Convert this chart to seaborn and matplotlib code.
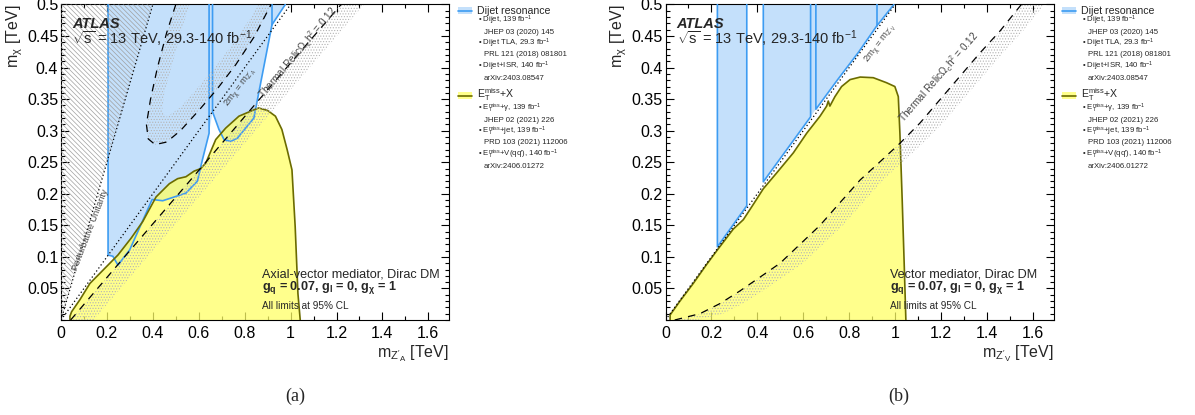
import numpy as np
import matplotlib
matplotlib.use("Agg")
import matplotlib.pyplot as plt
import seaborn as sns
from matplotlib.patches import Rectangle
from matplotlib.lines import Line2D
from matplotlib.ticker import FixedLocator, MultipleLocator, FixedFormatter

# ------------------------------------------------------------------ data
X_TICKS = [0, 0.2, 0.4, 0.6, 0.8, 1.0, 1.2, 1.4, 1.6]
X_TICK_LABELS = ["0", "0.2", "0.4", "0.6", "0.8", "1", "1.2", "1.4", "1.6"]
Y_TICKS = [0.05, 0.1, 0.15, 0.2, 0.25, 0.3, 0.35, 0.4, 0.45, 0.5]
Y_TICK_LABELS = ["0.05", "0.1", "0.15", "0.2", "0.25", "0.3", "0.35", "0.4", "0.45", "0.5"]

# reference lines
UNITARITY_X = [0.0, 0.40]
UNITARITY_Y = [0.0, 0.50]
TWO_M_X = [0.0, 1.0]
TWO_M_Y = [0.0, 0.5]

# ---- (a) axial-vector mediator
A_EMISS_X = [0.039, 0.039, 0.046, 0.082, 0.126, 0.183, 0.248, 0.306, 0.356, 0.414, 0.472,
             0.508, 0.544, 0.580, 0.609, 0.631, 0.674, 0.717, 0.775, 0.840, 0.861, 0.900,
             0.934, 0.962, 0.985, 1.006, 1.020, 1.032, 1.042]
A_EMISS_Y = [0.000, 0.006, 0.013, 0.032, 0.058, 0.079, 0.103, 0.130, 0.156, 0.195, 0.216,
             0.224, 0.227, 0.236, 0.240, 0.249, 0.286, 0.304, 0.323, 0.333, 0.336, 0.332,
             0.323, 0.302, 0.270, 0.238, 0.148, 0.042, 0.000]

A_DIJET_1_X = [0.205, 0.205, 0.226, 0.248, 0.299, 0.364, 0.397, 0.443, 0.544, 0.594, 0.616, 0.645, 0.645]
A_DIJET_1_Y = [0.500, 0.103, 0.101, 0.087, 0.111, 0.164, 0.191, 0.189, 0.201, 0.220, 0.254, 0.296, 0.500]
A_DIJET_2_X = [0.660, 0.660, 0.688, 0.710, 0.739, 0.768, 0.804, 0.840, 0.919, 0.977]
A_DIJET_2_Y = [0.500, 0.330, 0.302, 0.286, 0.283, 0.288, 0.304, 0.320, 0.468, 0.500]
A_DIJET_3_X = [0.919, 0.919]
A_DIJET_3_Y = [0.468, 0.500]

A_RELIC_LOW_X = [0.042, 0.300, 0.600, 0.900, 1.220]
A_RELIC_LOW_Y = [0.000, 0.110, 0.237, 0.365, 0.500]
A_RELIC_U_X = [0.500, 0.460, 0.420, 0.390, 0.372, 0.380, 0.410, 0.460, 0.520, 0.600, 0.680, 0.760, 0.840, 0.915]
A_RELIC_U_Y = [0.500, 0.455, 0.400, 0.350, 0.310, 0.287, 0.278, 0.282, 0.300, 0.332, 0.366, 0.404, 0.448, 0.500]
A_RELIC_U_IN_X = [0.560, 0.520, 0.480, 0.450, 0.440, 0.460, 0.520, 0.600, 0.680, 0.760, 0.840, 0.860]
A_RELIC_U_IN_Y = [0.500, 0.455, 0.400, 0.360, 0.330, 0.322, 0.337, 0.370, 0.405, 0.443, 0.487, 0.500]

# ---- (b) vector mediator
V_EMISS_X = [0.020, 0.020, 0.063, 0.121, 0.179, 0.230, 0.295, 0.339, 0.382, 0.426, 0.484,
             0.557, 0.615, 0.673, 0.702, 0.709, 0.716, 0.738, 0.767, 0.804, 0.848, 0.905,
             0.963, 0.999, 1.014, 1.021, 1.031, 1.040, 1.047]
V_EMISS_Y = [0.000, 0.008, 0.030, 0.058, 0.088, 0.113, 0.144, 0.159, 0.183, 0.208, 0.233,
             0.265, 0.296, 0.323, 0.339, 0.347, 0.339, 0.354, 0.370, 0.381, 0.385, 0.384,
             0.376, 0.370, 0.354, 0.296, 0.190, 0.085, 0.000]

V_DIJET_1_X = [0.226, 0.226, 0.354, 0.354]
V_DIJET_1_Y = [0.500, 0.116, 0.181, 0.500]
V_DIJET_2_X = [0.426, 0.426, 0.632, 0.632]
V_DIJET_2_Y = [0.500, 0.219, 0.322, 0.500]
V_DIJET_3_X = [0.655, 0.655, 0.750, 0.840, 0.920, 0.995]
V_DIJET_3_Y = [0.500, 0.334, 0.381, 0.424, 0.466, 0.500]
V_DIJET_4_X = [0.920, 0.920]
V_DIJET_4_Y = [0.466, 0.500]

V_RELIC_X = [0.040, 0.150, 0.237, 0.324, 0.412, 0.499, 0.586, 0.673, 0.760, 0.848, 0.935,
             1.021, 1.108, 1.195, 1.282, 1.369, 1.457, 1.550]
V_RELIC_Y = [0.000, 0.010, 0.026, 0.046, 0.068, 0.090, 0.120, 0.150, 0.186, 0.222, 0.251,
             0.280, 0.312, 0.349, 0.386, 0.423, 0.458, 0.500]
RELIC_BAND_SHIFT = 0.10

# legend contents
LEG_DIJET = [("• Dijet, 139 fb$^{-1}$", "JHEP 03 (2020) 145"),
             ("• Dijet TLA, 29.3 fb$^{-1}$", "PRL 121 (2018) 081801"),
             ("• Dijet+ISR, 140 fb$^{-1}$", "arXiv:2403.08547")]
LEG_EMISS = [(r"• E$_{\mathrm{T}}^{\mathrm{miss}}$+γ, 139 fb$^{-1}$", "JHEP 02 (2021) 226"),
             (r"• E$_{\mathrm{T}}^{\mathrm{miss}}$+jet, 139 fb$^{-1}$", "PRD 103 (2021) 112006"),
             (r"• E$_{\mathrm{T}}^{\mathrm{miss}}$+V(qq'), 140 fb$^{-1}$", "arXiv:2406.01272")]

# ------------------------------------------------------------------ style
sns.set_theme(style="ticks")
plt.rcParams["font.family"] = ["Liberation Sans", "DejaVu Sans"]
plt.rcParams["mathtext.fontset"] = "custom"
plt.rcParams["mathtext.rm"] = "Liberation Sans"
plt.rcParams["mathtext.it"] = "Liberation Sans:italic"
plt.rcParams["mathtext.bf"] = "Liberation Sans:bold"
plt.rcParams["mathtext.sf"] = "Liberation Sans"
plt.rcParams["hatch.linewidth"] = 0.5
plt.rcParams["axes.linewidth"] = 0.8

BLUE_FILL = "#c4e0fb"
BLUE_LINE = "#3d9cf2"
YELLOW_FILL = "#ffff66"
YELLOW_ALPHA = 0.75
YELLOW_EDGE = "#6b6b00"
HATCH_GREY = "#a0a0a0"
DOT_GREY = "#b4b4b4"
TXT_GREY = "#444444"

W, H = 1195, 415
fig = plt.figure(figsize=(W / 100, H / 100), dpi=100)
XMAX = 1.69
axA = fig.add_axes([61 / W, 1 - 320 / H, 388 / W, 315.5 / H])
axV = fig.add_axes([665.5 / W, 1 - 320 / H, 388 / W, 315.5 / H])


def sline(ax, x, y, **kw):
    sns.lineplot(x=np.asarray(x, float), y=np.asarray(y, float), ax=ax, sort=False,
                 estimator=None, legend=False, **kw)


def band(x, y, shift):
    x = list(x); y = list(y)
    bx = x + [v + shift for v in x[::-1]]
    by = y + y[::-1]
    return bx, by


def setup_axes(ax, xlabel):
    ax.set_xlim(0, XMAX)
    ax.set_ylim(0, 0.5)
    ax.xaxis.set_major_locator(FixedLocator(X_TICKS))
    ax.xaxis.set_major_formatter(FixedFormatter(X_TICK_LABELS))
    ax.xaxis.set_minor_locator(MultipleLocator(0.1))
    ax.yaxis.set_major_locator(FixedLocator(Y_TICKS))
    ax.yaxis.set_major_formatter(FixedFormatter(Y_TICK_LABELS))
    ax.yaxis.set_minor_locator(MultipleLocator(0.01))
    ax.tick_params(which="both", direction="in", top=True, right=True, width=0.8,
                   labelsize=11.5, colors="black")
    ax.tick_params(which="major", length=6)
    ax.tick_params(which="minor", length=3)
    ax.tick_params(axis="x", pad=4)
    ax.tick_params(axis="y", pad=2)
    for s in ax.spines.values():
        s.set_visible(True)
        s.set_color("black")
    ax.set_xlabel(xlabel, fontsize=11.5, loc="right")
    ax.xaxis.set_label_coords(1.0, -0.075)
    ax.xaxis.label.set_va("top")
    ax.set_ylabel(r"m$_{\mathrm{\chi}}$ [TeV]", fontsize=11.5, loc="top")
    ax.yaxis.set_label_coords(-0.093, 1.0)
    ax.set_facecolor("white")


def header(ax, x0):
    ax.text(x0, 0.463, "ATLAS", fontsize=10.5, fontweight="bold", fontstyle="italic", zorder=10)
    ax.text(x0, 0.437, r"$\sqrt{\mathrm{s}}$ = 13 TeV, 29.3-140 fb$^{-1}$", fontsize=10.5, zorder=10)


def footer(ax, x0, med_text):
    ax.text(x0, 0.0667, med_text, fontsize=9.1, zorder=10)
    ax.text(x0, 0.0476, r"$\mathbf{g_{q}}$ = 0.07, $\mathbf{g_{l}}$ = 0, $\mathbf{g_{\chi}}$ = 1",
            fontsize=9.1, fontweight="bold", zorder=10)
    ax.text(x0, 0.0175, "All limits at 95% CL", fontsize=7.2, zorder=10)


DOTS = "......"
LINES = "\\" * 7

# ------------------------------------------------------------------ panel (a)
ax = axA
setup_axes(ax, r"m$_{\mathrm{Z}'_{\mathrm{A}}}$ [TeV]")
ax.fill(A_DIJET_1_X[:-1] + A_DIJET_2_X[1:], A_DIJET_1_Y[:-1] + A_DIJET_2_Y[1:],
        facecolor=BLUE_FILL, edgecolor="none", zorder=1)
ax.fill(A_EMISS_X, A_EMISS_Y, facecolor=YELLOW_FILL, alpha=YELLOW_ALPHA, edgecolor="none", zorder=2)
for xs, ys in [(A_DIJET_1_X, A_DIJET_1_Y), (A_DIJET_2_X, A_DIJET_2_Y), (A_DIJET_3_X, A_DIJET_3_Y)]:
    sline(ax, xs, ys, color=BLUE_LINE, linewidth=1.2, zorder=3)
sline(ax, A_EMISS_X, A_EMISS_Y, color=YELLOW_EDGE, linewidth=1.2, zorder=4)
# perturbative unitarity
ax.fill([UNITARITY_X[0], UNITARITY_X[1], 0.0], [UNITARITY_Y[0], UNITARITY_Y[1], 0.5],
        facecolor="none", edgecolor=HATCH_GREY, hatch=LINES, linewidth=0, zorder=5)
sline(ax, UNITARITY_X, UNITARITY_Y, color="black", linewidth=0.9, linestyle=(0, (1, 2)), zorder=6)
# thermal relic bands
bx, by = band(A_RELIC_LOW_X, A_RELIC_LOW_Y, RELIC_BAND_SHIFT)
ax.fill(bx, by, facecolor="none", edgecolor=DOT_GREY, hatch=DOTS, linewidth=0, zorder=5)
ax.fill(A_RELIC_U_X + A_RELIC_U_IN_X[::-1], A_RELIC_U_Y + A_RELIC_U_IN_Y[::-1],
        facecolor="none", edgecolor=DOT_GREY, hatch=DOTS, linewidth=0, zorder=5)
sline(ax, A_RELIC_LOW_X, A_RELIC_LOW_Y, color="black", linewidth=0.9, linestyle=(0, (6, 5)), zorder=6)
sline(ax, A_RELIC_U_X, A_RELIC_U_Y, color="black", linewidth=0.9, linestyle=(0, (6, 5)), zorder=6)
sline(ax, TWO_M_X, TWO_M_Y, color="black", linewidth=0.9, linestyle=(0, (1, 2)), zorder=6)
ax.text(0.126, 0.143, "Perturbative Unitarity", fontsize=6.6, color=TXT_GREY, rotation=69,
        ha="center", va="center", rotation_mode="anchor", zorder=10)
ax.text(0.786, 0.367, r"2m$_{\mathrm{\chi}}$ = m$_{\mathrm{Z}'_{\mathrm{A}}}$", fontsize=6.8, color=TXT_GREY,
        rotation=53, ha="center", va="center", rotation_mode="anchor", zorder=10)
ax.text(1.034, 0.423, r"Thermal Relic$\mathrm{\Omega}_{\mathrm{c}}$h$^{2}$ = 0.12", fontsize=7.2, color=TXT_GREY,
        rotation=50, ha="center", va="center", rotation_mode="anchor", zorder=10)
header(ax, 0.048)
footer(ax, 0.874, "Axial-vector mediator, Dirac DM")

# ------------------------------------------------------------------ panel (b)
ax = axV
setup_axes(ax, r"m$_{\mathrm{Z}'_{\mathrm{V}}}$ [TeV]")
ax.fill(V_DIJET_1_X, V_DIJET_1_Y, facecolor=BLUE_FILL, edgecolor="none", zorder=1)
ax.fill(V_DIJET_2_X[:-1] + V_DIJET_3_X[1:], V_DIJET_2_Y[:-1] + V_DIJET_3_Y[1:],
        facecolor=BLUE_FILL, edgecolor="none", zorder=1)
ax.fill(V_EMISS_X, V_EMISS_Y, facecolor=YELLOW_FILL, alpha=YELLOW_ALPHA, edgecolor="none", zorder=2)
for xs, ys in [(V_DIJET_1_X, V_DIJET_1_Y), (V_DIJET_2_X, V_DIJET_2_Y),
               (V_DIJET_3_X, V_DIJET_3_Y), (V_DIJET_4_X, V_DIJET_4_Y)]:
    sline(ax, xs, ys, color=BLUE_LINE, linewidth=1.2, zorder=3)
sline(ax, V_EMISS_X, V_EMISS_Y, color=YELLOW_EDGE, linewidth=1.2, zorder=4)
bx, by = band(V_RELIC_X, V_RELIC_Y, RELIC_BAND_SHIFT)
ax.fill(bx, by, facecolor="none", edgecolor=DOT_GREY, hatch=DOTS, linewidth=0, zorder=5)
sline(ax, V_RELIC_X, V_RELIC_Y, color="black", linewidth=0.9, linestyle=(0, (6, 5)), zorder=6)
sline(ax, TWO_M_X, TWO_M_Y, color="black", linewidth=0.9, linestyle=(0, (1, 2)), zorder=6)
ax.text(0.941, 0.437, r"2m$_{\mathrm{\chi}}$ = m$_{\mathrm{Z}'_{\mathrm{V}}}$", fontsize=6.8, color=TXT_GREY,
        rotation=53, ha="center", va="center", rotation_mode="anchor", zorder=10)
ax.text(1.189, 0.384, r"Thermal Relic$\mathrm{\Omega}_{\mathrm{c}}$h$^{2}$ = 0.12", fontsize=7.2, color=TXT_GREY,
        rotation=49, ha="center", va="center", rotation_mode="anchor", zorder=10)
header(ax, 0.048)
footer(ax, 0.978, "Vector mediator, Dirac DM")


# ------------------------------------------------------------------ legends
def fx(px):
    return px / W


def fy(py):
    return 1 - py / H


def legend(x0):
    fig.add_artist(Rectangle((fx(x0), fy(14.5)), 14 / W, 7 / H, transform=fig.transFigure,
                             facecolor=BLUE_FILL, edgecolor="none"))
    fig.add_artist(Line2D([fx(x0), fx(x0 + 14)], [fy(11), fy(11)], transform=fig.transFigure,
                          color=BLUE_LINE, linewidth=1.2))
    fig.add_artist(Rectangle((fx(x0), fy(99.5)), 14 / W, 7 / H, transform=fig.transFigure,
                             facecolor=YELLOW_FILL, alpha=YELLOW_ALPHA, edgecolor="none"))
    fig.add_artist(Line2D([fx(x0), fx(x0 + 14)], [fy(96), fy(96)], transform=fig.transFigure,
                          color=YELLOW_EDGE, linewidth=1.2))
    fig.text(fx(x0 + 19), fy(10.5), "Dijet resonance", fontsize=7.6, va="center")
    fig.text(fx(x0 + 19), fy(94.5), r"E$_{\mathrm{T}}^{\mathrm{miss}}$+X", fontsize=7.6, va="center")
    for block, ystart in [(LEG_DIJET, 20.5), (LEG_EMISS, 108.5)]:
        for i, (a, b) in enumerate(block):
            y1 = ystart + i * 23.0
            fig.text(fx(x0 + 20.5), fy(y1), a, fontsize=5.6, va="center")
            fig.text(fx(x0 + 25.5), fy(y1 + 11.5), b, fontsize=5.6, va="center")


legend(458)
legend(1062)

fig.text(295 / W, fy(396), "(a)", fontsize=13, family="Liberation Serif", ha="center", va="center")
fig.text(899 / W, fy(396), "(b)", fontsize=13, family="Liberation Serif", ha="center", va="center")

fig.savefig("out.png", dpi=100)
